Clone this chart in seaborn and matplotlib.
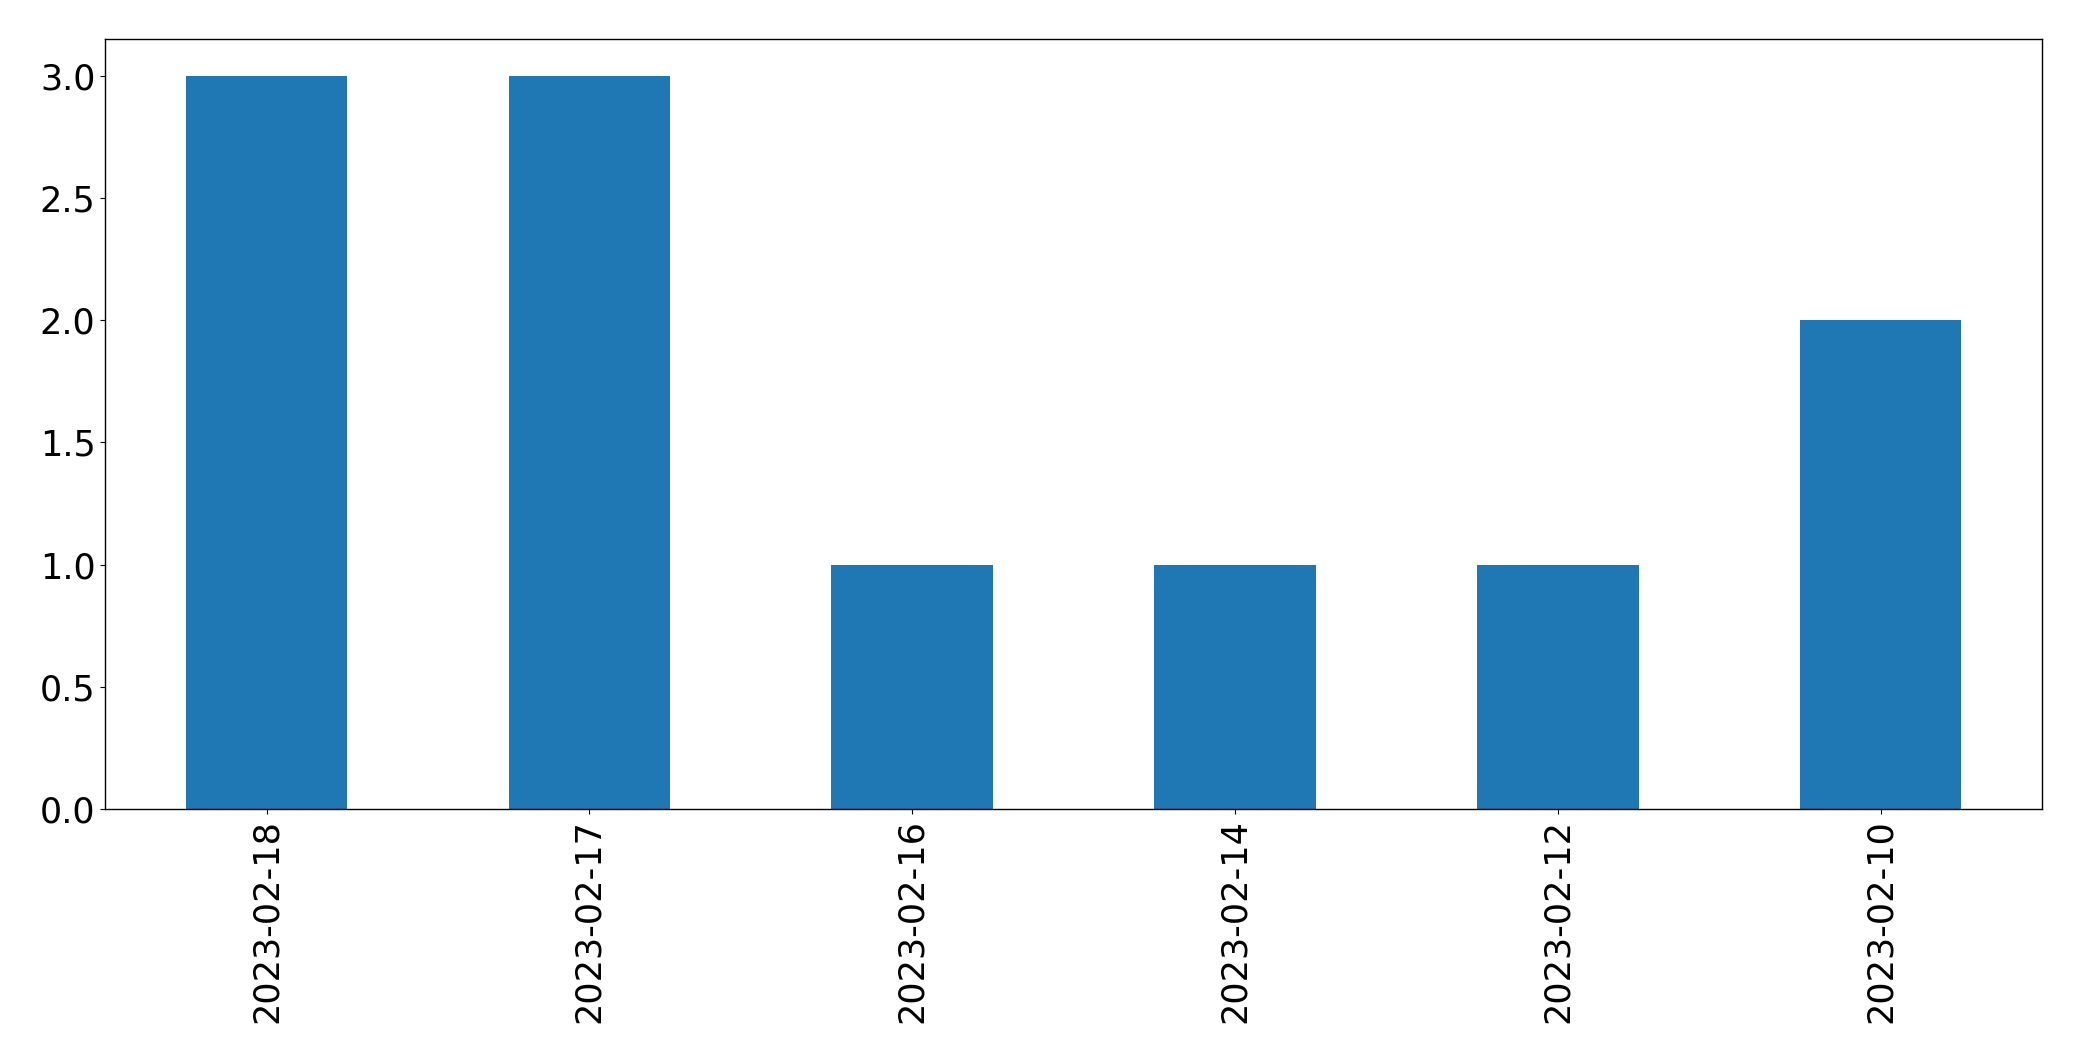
import matplotlib
matplotlib.use('Agg')
import matplotlib.pyplot as plt
import seaborn as sns
import pandas as pd

dates = ['2023-02-18', '2023-02-17', '2023-02-16', '2023-02-14', '2023-02-12', '2023-02-10']
counts = [3, 3, 1, 1, 1, 2]

plt.rcParams.update({'font.size': 25.2, 'font.family': ['DejaVu Sans']})

df = pd.DataFrame({'date': dates, 'count': counts})

fig, ax = plt.subplots(figsize=(20.82, 10.61), dpi=100)
fig.subplots_adjust(left=0.0505, right=0.9808, top=0.963, bottom=0.2375)
sns.barplot(data=df, x='date', y='count', order=dates, color='#1f77b4',
            saturation=1, width=0.5, ax=ax)
ax.set_xlim(-0.5, len(dates) - 0.5)
ax.set_ylim(0, 3.15)
ax.set_xlabel('')
ax.set_ylabel('')
ax.tick_params(axis='x', labelrotation=90)
for s in ax.spines.values():
    s.set_color('black')
    s.set_linewidth(1.0)

fig.savefig('out.png', dpi=100)
